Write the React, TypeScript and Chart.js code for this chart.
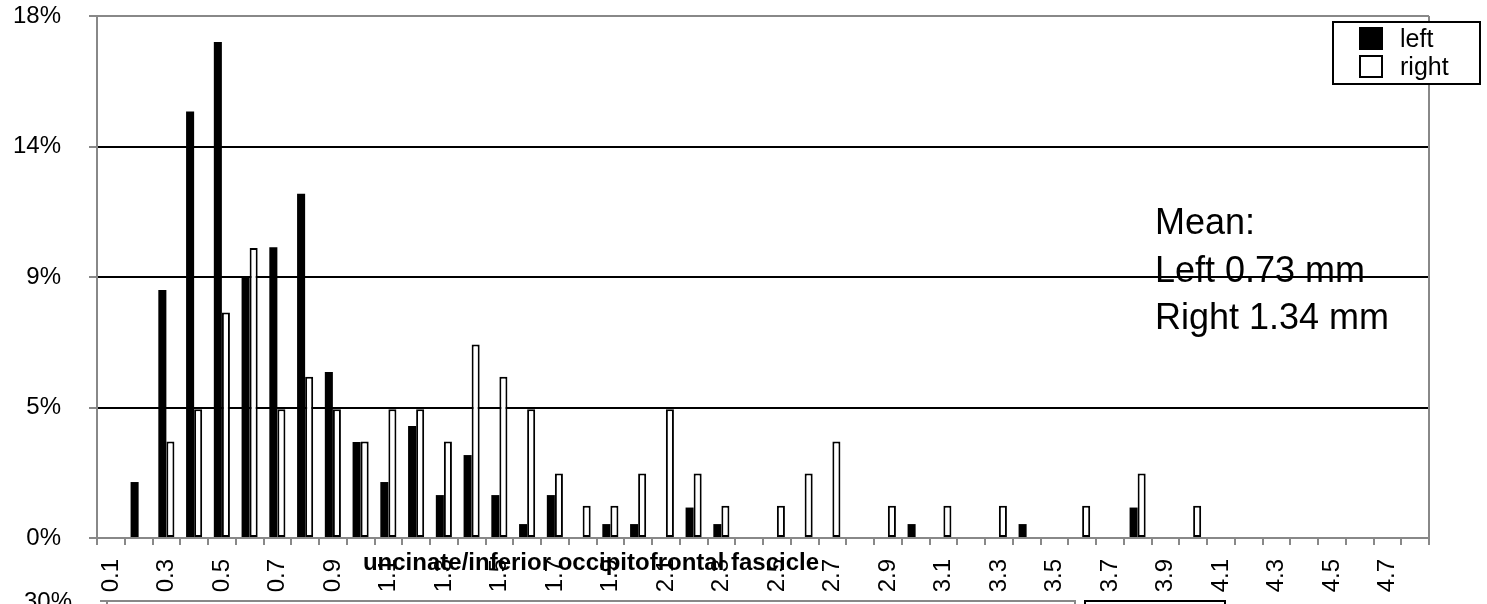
import React, { useEffect, useRef } from 'react';
import { Chart, registerables } from 'chart.js';

Chart.register(...registerables);

const categories = [
  '0.1', '0.2', '0.3', '0.4', '0.5', '0.6', '0.7', '0.8', '0.9', '1.0',
  '1.1', '1.2', '1.3', '1.4', '1.5', '1.6', '1.7', '1.8', '1.9', '2.0',
  '2.1', '2.2', '2.3', '2.4', '2.5', '2.6', '2.7', '2.8', '2.9', '3.0',
  '3.1', '3.2', '3.3', '3.4', '3.5', '3.6', '3.7', '3.8', '3.9', '4.0',
  '4.1', '4.2', '4.3', '4.4', '4.5', '4.6', '4.7', '4.8',
];

const xTickLabels = [
  '0.1', '', '0.3', '', '0.5', '', '0.7', '', '0.9', '',
  '1.1', '', '1.3', '', '1.5', '', '1.7', '', '1.9', '',
  '2.1', '', '2.3', '', '2.5', '', '2.7', '', '2.9', '',
  '3.1', '', '3.3', '', '3.5', '', '3.7', '', '3.9', '',
  '4.1', '', '4.3', '', '4.5', '', '4.7', '',
];

// percent values
const leftValues = [
  0, 1.93, 8.55, 14.71, 17.1, 9.03, 10.03, 11.87, 5.72, 3.31,
  1.93, 3.86, 1.48, 2.86, 1.48, 0.48, 1.48, 0, 0.48, 0.48,
  0, 1.05, 0.48, 0, 0, 0, 0, 0, 0, 0.48,
  0, 0, 0, 0.48, 0, 0, 0, 1.05, 0, 0,
  0, 0, 0, 0, 0, 0, 0, 0,
];

const rightValues = [
  0, 0, 3.33, 4.44, 7.78, 10.0, 4.44, 5.56, 4.44, 3.33,
  4.44, 4.44, 3.33, 6.67, 5.56, 4.44, 2.22, 1.11, 1.11, 2.22,
  4.44, 2.22, 1.11, 0, 1.11, 2.22, 3.33, 0, 1.11, 0,
  1.11, 0, 1.11, 0, 0, 1.11, 0, 2.22, 0, 1.11,
  0, 0, 0, 0, 0, 0, 0, 0,
];

const yTickLabels = ['0%', '5%', '9%', '14%', '18%'];
const seriesNames = ['left', 'right'];
const chartTitle = 'uncinate/inferior occipitofrontal fascicle';
const meanLines = ['Mean:', 'Left 0.73 mm', 'Right 1.34 mm'];
const nextChartTopLabel = '30%';

const FONT = "'Liberation Sans', Arial, Helvetica, sans-serif";
const GRAY = '#888888';

const decorPlugin = {
  id: 'decor',
  afterDraw(chart: any) {
    const ctx = chart.ctx as CanvasRenderingContext2D;
    const area = chart.chartArea;
    ctx.save();

    // right border of plot area
    ctx.strokeStyle = GRAY;
    ctx.lineWidth = 2;
    ctx.beginPath();
    ctx.moveTo(area.right, area.top);
    ctx.lineTo(area.right, area.bottom);
    ctx.stroke();

    // title (overlapping the tick labels, as in the original)
    ctx.fillStyle = '#000';
    ctx.font = `bold 24px ${FONT}`;
    ctx.textAlign = 'center';
    ctx.textBaseline = 'alphabetic';
    ctx.fillText(chartTitle, 591, 570);

    // mean annotation
    ctx.font = `36px ${FONT}`;
    ctx.textAlign = 'left';
    meanLines.forEach((line, i) => {
      ctx.fillText(line, 1155, 234 + i * 47.5);
    });

    // legend
    const lx = 1333;
    const ly = 22;
    const lw = 147;
    const lh = 62;
    ctx.fillStyle = '#fff';
    ctx.fillRect(lx, ly, lw, lh);
    ctx.strokeStyle = '#000';
    ctx.lineWidth = 2;
    ctx.strokeRect(lx, ly, lw, lh);
    ctx.font = `25px ${FONT}`;
    seriesNames.forEach((name, i) => {
      const sy = ly + 5 + i * 28;
      if (i === 0) {
        ctx.fillStyle = '#000';
        ctx.fillRect(1359, sy, 24, 23);
      } else {
        ctx.fillStyle = '#fff';
        ctx.fillRect(1359, sy, 24, 23);
        ctx.strokeStyle = '#000';
        ctx.lineWidth = 2;
        ctx.strokeRect(1360, sy + 1, 22, 21);
      }
      ctx.fillStyle = '#000';
      ctx.textAlign = 'left';
      ctx.fillText(name, 1400, sy + 20);
    });

    // top of the next chart, cut by the picture edge
    ctx.fillStyle = '#000';
    ctx.font = `24px ${FONT}`;
    ctx.textAlign = 'right';
    ctx.fillText(nextChartTopLabel, 72, 609);
    ctx.strokeStyle = GRAY;
    ctx.lineWidth = 2;
    ctx.beginPath();
    ctx.moveTo(100, 601);
    ctx.lineTo(1075, 601);
    ctx.moveTo(107, 601);
    ctx.lineTo(107, 604);
    ctx.moveTo(1075, 600);
    ctx.lineTo(1075, 604);
    ctx.stroke();
    ctx.strokeStyle = '#000';
    ctx.beginPath();
    ctx.moveTo(1085, 606);
    ctx.lineTo(1085, 601);
    ctx.lineTo(1225, 601);
    ctx.lineTo(1225, 606);
    ctx.stroke();

    ctx.restore();
  },
};

export default function App() {
  const canvasRef = useRef<HTMLCanvasElement | null>(null);

  useEffect(() => {
    const canvas = canvasRef.current;
    if (!canvas) return;
    const chart = new Chart(canvas, {
      type: 'bar',
      data: {
        labels: categories,
        datasets: [
          {
            label: seriesNames[0],
            data: leftValues,
            backgroundColor: '#000',
            borderWidth: 0,
            categoryPercentage: 0.58,
            barPercentage: 1,
          },
          {
            label: seriesNames[1],
            data: rightValues,
            backgroundColor: '#fff',
            borderColor: '#000',
            borderWidth: 2,
            borderSkipped: false,
            categoryPercentage: 0.58,
            barPercentage: 1,
          },
        ],
      },
      options: {
        animation: false,
        responsive: false,
        maintainAspectRatio: false,
        devicePixelRatio: 1,
        layout: { padding: { top: 16, right: 58, left: 0, bottom: 0 } },
        plugins: {
          legend: { display: false },
          tooltip: { enabled: false },
          title: { display: false },
        },
        scales: {
          x: {
            z: 1,
            grid: {
              offset: true,
              drawOnChartArea: false,
              color: GRAY,
              tickColor: GRAY,
              lineWidth: 2,
              tickLength: 7,
            },
            border: { color: GRAY, width: 2 },
            ticks: {
              autoSkip: false,
              maxRotation: 90,
              minRotation: 90,
              padding: 14,
              color: '#000',
              font: { family: FONT, size: 24 },
              callback: (_v: any, i: number) => xTickLabels[i],
            },
            afterFit: (s: any) => {
              s.height = 66;
            },
          },
          y: {
            min: 0,
            max: 18,
            ticks: {
              stepSize: 4.5,
              padding: 28,
              color: '#000',
              font: { family: FONT, size: 24 },
              callback: (_v: any, i: number) => yTickLabels[i],
            },
            grid: {
              color: (c: any) => (c.index === 0 || c.index === 4 ? GRAY : '#000'),
              lineWidth: 2,
              tickColor: GRAY,
              tickLength: 8,
            },
            border: { color: GRAY, width: 2 },
            afterFit: (s: any) => {
              s.width = 97;
              s.paddingTop = 14;
              s.paddingBottom = 14;
            },
          },
        },
      },
      plugins: [decorPlugin],
    } as any);
    return () => {
      chart.destroy();
    };
  }, []);

  return (
    <div style={{ position: 'absolute', left: 0, top: 0, width: 1487, height: 604, background: '#fff' }}>
      <canvas ref={canvasRef} width={1487} height={604} style={{ width: 1487, height: 604, display: 'block' }} />
    </div>
  );
}
